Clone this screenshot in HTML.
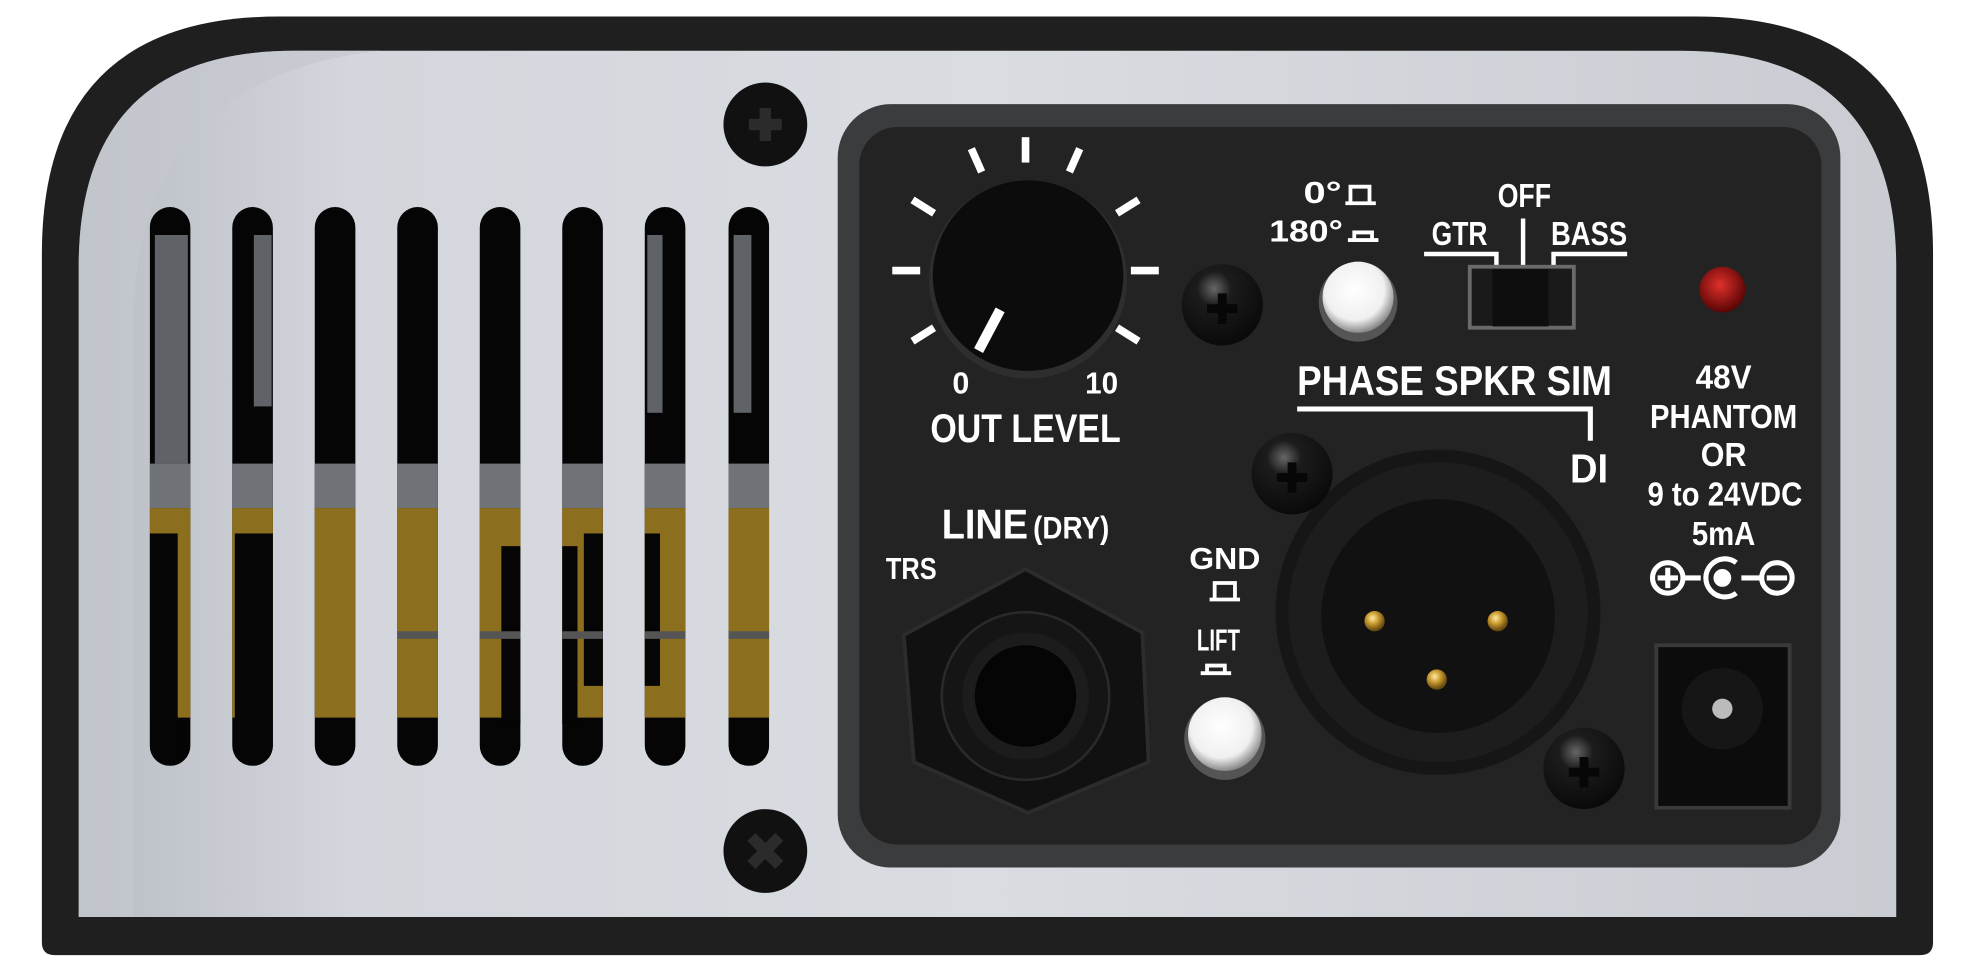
<!DOCTYPE html>
<html><head><meta charset="utf-8"><style>
html,body{margin:0;padding:0;background:#fff;width:1980px;height:978px;overflow:hidden}
svg{display:block}
text{font-family:"Liberation Sans Narrow","Liberation Sans",sans-serif;font-weight:bold;fill:#fff}
</style></head><body>
<svg width="1980" height="978" viewBox="0 0 1560 770" preserveAspectRatio="none" xmlns="http://www.w3.org/2000/svg">
<defs>
<linearGradient id="silver" x1="0" y1="0" x2="1" y2="0">
<stop offset="0" stop-color="#b9bdc4"/><stop offset="0.15" stop-color="#d3d6dc"/><stop offset="0.5" stop-color="#d9dce1"/><stop offset="1" stop-color="#c9ccd2"/>
</linearGradient>
<radialGradient id="screw" cx="0.4" cy="0.3" r="0.7"><stop offset="0" stop-color="#666"/><stop offset="0.3" stop-color="#1c1c1c"/><stop offset="1" stop-color="#0a0a0a"/></radialGradient>
<radialGradient id="btn" cx="0.45" cy="0.4" r="0.6"><stop offset="0" stop-color="#fff"/><stop offset="0.7" stop-color="#f0f0f0"/><stop offset="1" stop-color="#888"/></radialGradient>
<radialGradient id="gold" cx="0.4" cy="0.35" r="0.6"><stop offset="0" stop-color="#ffe9a0"/><stop offset="0.5" stop-color="#c8992e"/><stop offset="1" stop-color="#6b4d10"/></radialGradient>
<radialGradient id="led" cx="0.45" cy="0.4" r="0.6"><stop offset="0" stop-color="#e0302a"/><stop offset="1" stop-color="#5a0505"/></radialGradient>
<clipPath id="slots">
<rect x="118" y="163" width="32" height="440" rx="16"/><rect x="183" y="163" width="32" height="440" rx="16"/>
<rect x="248" y="163" width="32" height="440" rx="16"/><rect x="313" y="163" width="32" height="440" rx="16"/>
<rect x="378" y="163" width="32" height="440" rx="16"/><rect x="443" y="163" width="32" height="440" rx="16"/>
<rect x="508" y="163" width="32" height="440" rx="16"/><rect x="574" y="163" width="32" height="440" rx="16"/>
</clipPath>
</defs>
<path d="M33 200 Q33 13 220 13 L1336 13 Q1523 13 1523 200 L1523 742 Q1523 752 1513 752 L43 752 Q33 752 33 742 Z" fill="#1f1f20"/>
<path d="M62 210 Q62 40 232 40 L1324 40 Q1494 40 1494 210 L1494 722 L62 722 Z" fill="url(#silver)"/>
<path d="M62 210 Q62 40 232 40 L300 40 Q110 60 105 250 L105 722 L62 722 Z" fill="#c4c8ce" opacity="0.7"/>
<g clip-path="url(#slots)">
<rect x="100" y="150" width="520" height="460" fill="#050505"/>
<rect x="100" y="365" width="520" height="35" fill="#6f7378"/>
<rect x="100" y="400" width="520" height="165" fill="#8c6e1f"/>
<rect x="100" y="420" width="40" height="180" fill="#050505"/>
<rect x="185" y="420" width="60" height="180" fill="#050505"/>
<rect x="395" y="430" width="60" height="140" fill="#050505"/>
<rect x="460" y="420" width="60" height="120" fill="#050505"/>
<rect x="122" y="185" width="26" height="180" fill="#5f6368"/>
<rect x="200" y="185" width="14" height="135" fill="#5f6368"/>
<rect x="510" y="185" width="12" height="140" fill="#5f6368"/>
<rect x="578" y="185" width="14" height="140" fill="#5f6368"/>
<rect x="300" y="497" width="310" height="6" fill="#555"/>
</g>
<circle cx="603" cy="98" r="33" fill="#111"/>
<path d="M590 98h26M603 85v26" stroke="#2b2b2b" stroke-width="9"/>
<circle cx="603" cy="670" r="33" fill="#111"/>
<path d="M592 659l22 22M614 659l-22 22" stroke="#2b2b2b" stroke-width="9"/>
<rect x="660" y="82" width="790" height="601" rx="42" fill="#3b3c3e"/>
<rect x="677" y="100" width="758" height="565" rx="30" fill="#232324"/>
<g stroke="#fff" stroke-width="6" transform="translate(808,213)">
<line x1="0" y1="-85" x2="0" y2="-105"/>
<line x1="0" y1="-85" x2="0" y2="-105" transform="rotate(-24)"/>
<line x1="0" y1="-85" x2="0" y2="-105" transform="rotate(24)"/>
<line x1="0" y1="-85" x2="0" y2="-105" transform="rotate(-58)"/>
<line x1="0" y1="-85" x2="0" y2="-105" transform="rotate(58)"/>
<line x1="0" y1="-83" x2="0" y2="-105" transform="rotate(-90)"/>
<line x1="0" y1="-83" x2="0" y2="-105" transform="rotate(90)"/>
<line x1="0" y1="-85" x2="0" y2="-105" transform="rotate(-122)"/>
<line x1="0" y1="-85" x2="0" y2="-105" transform="rotate(122)"/>
</g>
<circle cx="810" cy="220" r="78" fill="#2e2e2e"/>
<circle cx="810" cy="217" r="75" fill="#0c0c0c"/>
<line x1="788" y1="244" x2="771" y2="276" stroke="#fff" stroke-width="8"/>
<text x="757" y="310" font-size="24" text-anchor="middle">0</text>
<text x="868" y="310" font-size="24" text-anchor="middle" textLength="26" lengthAdjust="spacingAndGlyphs">10</text>
<text x="808" y="348" font-size="31" text-anchor="middle" textLength="150" lengthAdjust="spacingAndGlyphs">OUT LEVEL</text>
<text x="1027" y="160" font-size="24" textLength="30" lengthAdjust="spacingAndGlyphs">0°</text>
<path d="M1060 160h24M1064 160v-13h15v13" stroke="#fff" stroke-width="3" fill="none"/>
<text x="1000" y="190" font-size="24" textLength="58" lengthAdjust="spacingAndGlyphs">180°</text>
<path d="M1062 189h24M1067 189v-6h14v6" stroke="#fff" stroke-width="3" fill="none"/>
<circle cx="963" cy="240" r="32" fill="url(#screw)"/>
<path d="M951 243h24M963 231v24" stroke="#070707" stroke-width="7"/>
<circle cx="1070" cy="238" r="31" fill="#555"/>
<circle cx="1070" cy="234" r="28" fill="url(#btn)"/>
<text x="1180" y="163" font-size="26" textLength="42" lengthAdjust="spacingAndGlyphs">OFF</text>
<text x="1128" y="193" font-size="26" textLength="44" lengthAdjust="spacingAndGlyphs">GTR</text>
<text x="1222" y="193" font-size="26" textLength="60" lengthAdjust="spacingAndGlyphs">BASS</text>
<path d="M1122 200h57v15M1200 172v40M1282 200h-58v15" stroke="#fff" stroke-width="3.5" fill="none"/>
<rect x="1158" y="210" width="82" height="48" fill="#1a1a1a" stroke="#6a6a6a" stroke-width="3"/>
<rect x="1176" y="212" width="44" height="45" fill="#0e0e0e"/>
<circle cx="1357" cy="228" r="18" fill="url(#led)"/>
<text x="1022" y="311" font-size="33" textLength="248" lengthAdjust="spacingAndGlyphs">PHASE  SPKR SIM</text>
<path d="M1022 322h231v25" stroke="#fff" stroke-width="4" fill="none"/>
<text x="1252" y="380" font-size="32" text-anchor="middle" textLength="30" lengthAdjust="spacingAndGlyphs">DI</text>
<g font-size="26">
<text x="1336" y="306" textLength="44" lengthAdjust="spacingAndGlyphs">48V</text>
<text x="1300" y="337" textLength="116" lengthAdjust="spacingAndGlyphs">PHANTOM</text>
<text x="1340" y="367" textLength="36" lengthAdjust="spacingAndGlyphs">OR</text>
<text x="1298" y="398" textLength="122" lengthAdjust="spacingAndGlyphs">9 to 24VDC</text>
<text x="1333" y="429" textLength="50" lengthAdjust="spacingAndGlyphs">5mA</text>
</g>
<g stroke="#fff" stroke-width="4" fill="none">
<circle cx="1314" cy="455" r="12"/><path d="M1306 455h16M1314 447v16"/>
<path d="M1326 455h14M1372 455h15"/>
<path d="M1368 443a15 15 0 1 0 0 24"/><circle cx="1357" cy="455" r="5" fill="#fff"/>
<circle cx="1400" cy="455" r="12"/><path d="M1392 455h16"/>
</g>
<rect x="1305" y="508" width="105" height="128" fill="#0c0c0c" stroke="#3a3a3a" stroke-width="3"/>
<circle cx="1357" cy="558" r="32" fill="#161616"/>
<circle cx="1357" cy="558" r="8" fill="#bbb"/>
<circle cx="1133" cy="482" r="128" fill="#161616"/>
<circle cx="1133" cy="482" r="118" fill="#1d1d1d"/>
<circle cx="1133" cy="485" r="92" fill="#111"/>
<circle cx="1083" cy="489" r="8" fill="url(#gold)"/>
<circle cx="1180" cy="489" r="8" fill="url(#gold)"/>
<circle cx="1132" cy="535" r="8" fill="url(#gold)"/>
<circle cx="1018" cy="373" r="32" fill="url(#screw)"/>
<path d="M1006 376h24M1018 364v24" stroke="#070707" stroke-width="7"/>
<circle cx="1248" cy="605" r="32" fill="url(#screw)"/>
<path d="M1236 608h24M1248 596v24" stroke="#070707" stroke-width="7"/>
<text x="742" y="424" font-size="33" textLength="68" lengthAdjust="spacingAndGlyphs">LINE</text>
<text x="814" y="424" font-size="25" textLength="60" lengthAdjust="spacingAndGlyphs">(DRY)</text>
<text x="698" y="456" font-size="24" textLength="40" lengthAdjust="spacingAndGlyphs">TRS</text>
<polygon points="808,448 900,498 905,600 810,640 720,600 712,500" fill="#111" stroke="#2c2c2c" stroke-width="3"/>
<circle cx="808" cy="548" r="66" fill="#151515" stroke="#2a2a2a" stroke-width="2"/>
<circle cx="808" cy="548" r="50" fill="#1c1c1c"/>
<circle cx="808" cy="548" r="40" fill="#050505"/>
<text x="937" y="448" font-size="24" textLength="56" lengthAdjust="spacingAndGlyphs">GND</text>
<path d="M953 472h24M957 472v-13h16v13" stroke="#fff" stroke-width="3" fill="none"/>
<text x="943" y="512" font-size="24" textLength="34" lengthAdjust="spacingAndGlyphs">LIFT</text>
<path d="M946 530h24M951 530v-6h14v6" stroke="#fff" stroke-width="3" fill="none"/>
<circle cx="965" cy="582" r="32" fill="#555"/>
<circle cx="965" cy="578" r="29" fill="url(#btn)"/>
</svg>
</body></html>
